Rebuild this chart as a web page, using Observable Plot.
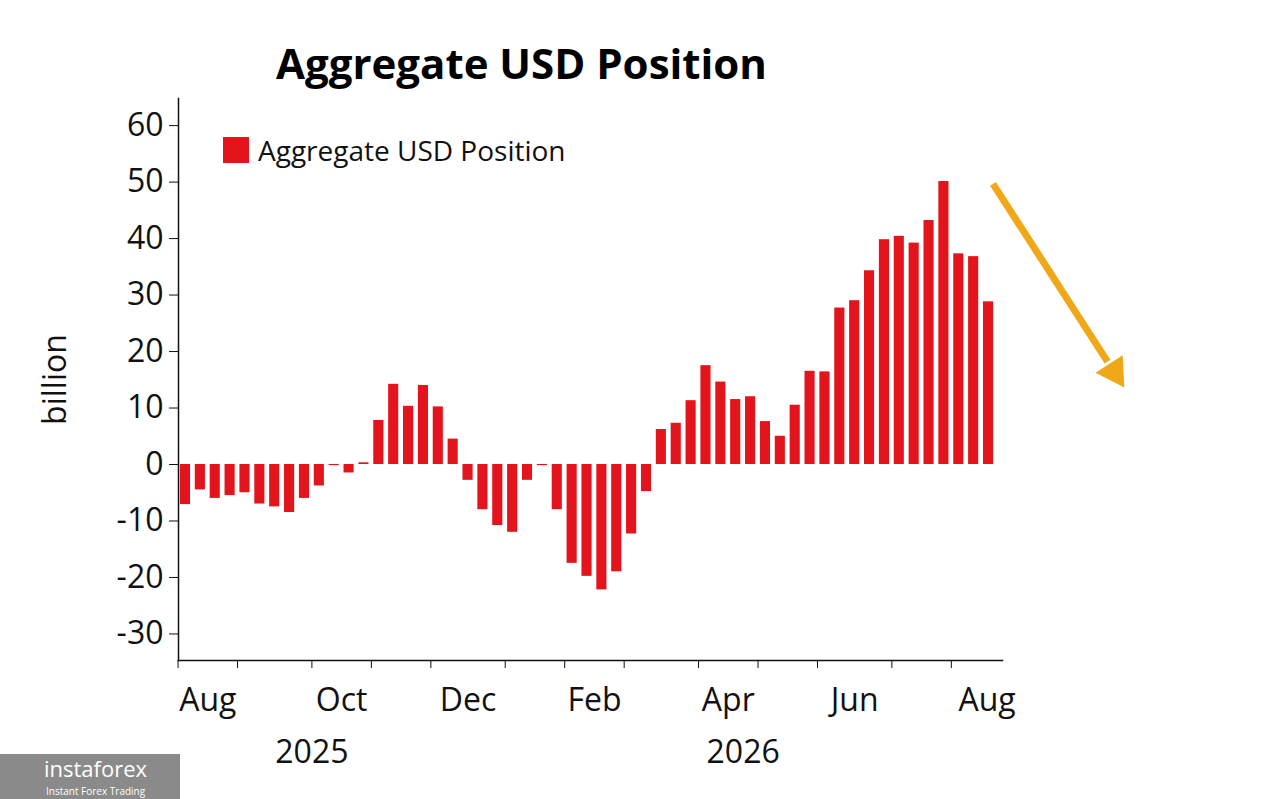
<!DOCTYPE html>
<html><head><meta charset="utf-8">
<script src="https://cdn.jsdelivr.net/npm/d3@7"></script>
<script src="https://cdn.jsdelivr.net/npm/@observablehq/plot@0.6"></script>
<style>
body{margin:0;background:#fff;font-family:"Open Sans",sans-serif;}
#wrap{position:relative;width:1263px;height:799px;}
#title{position:absolute;left:276px;top:34px;font-size:42px;font-weight:bold;color:#000;}
#legend{position:absolute;left:223px;top:131px;font-size:28px;display:flex;align-items:center;gap:9px;color:#111}
#legend span{display:inline-block;width:26px;height:26px;background:#e3141b}
#logo{position:absolute;left:0;top:754px;width:180px;height:45px;background:#8a8a8a;color:#fff}
#logo .a{position:absolute;left:44px;top:1px;font-size:22px;line-height:26px}
#logo .b{position:absolute;left:46px;top:32px;font-size:10px;line-height:11px}
</style></head><body>
<div id="wrap">
<div id="chart"></div>
<div id="title">Aggregate USD Position</div>
<div id="legend"><span></span>Aggregate USD Position</div>
<div id="logo"><div class="a">instaforex</div><div class="b">Instant Forex Trading</div></div>
</div>
<script>
const values = [-7.1,-4.5,-6,-5.5,-5,-7,-7.5,-8.5,-6,-3.8,-0.2,-1.5,0.3,7.8,14.2,10.3,14,10.2,4.5,-2.8,-8,-10.8,-12,-2.8,-0.2,-8,-17.5,-19.8,-22.2,-19,-12.3,-4.8,6.2,7.3,11.3,17.5,14.6,11.5,12,7.6,5,10.5,16.5,16.4,27.7,29,34.3,39.8,40.4,39.2,43.2,50.1,37.3,36.8,28.8];
const monthTicks = [-0.5,3.5,8.5,12.5,16.5,21.5,25.5,29.5,34.5,38.5,42.5,47.5,51.5];
const monthLabels = ["Aug","Oct","Dec","Feb","Apr","Jun","Aug"];
const monthLabelPos = [1.5,10.5,19,27.5,36.5,45,53.9];
const yearLabels = ["2025","2026"];
const yearLabelPos = [8.5,37.5];
const yTicks = [-30,-20,-10,0,10,20,30,40,50,60];
const arrow = [{x1:54.3,y1:49.7,x2:62.0,y2:18.2}];
const arrowHead = [{x:62.45,y:16.4}];
const data = values.map((v,i)=>({i,v}));
const chart = Plot.plot({
  width:1263,height:799,
  marginLeft:178,marginTop:98,marginRight:261,marginBottom:139,
  style:{fontFamily:"Open Sans, sans-serif",fontSize:"32px",color:"#111",overflow:"visible"},
  x:{domain:[-0.47,54.94]},
  y:{domain:[-34.7,64.8]},
  marks:[
    Plot.rectY(data,{x1:d=>d.i-0.34,x2:d=>d.i+0.34,y:"v",fill:"#e3141b"}),
    Plot.frame({anchor:"left",stroke:"#111",strokeWidth:1.5}),
    Plot.frame({anchor:"bottom",stroke:"#111",strokeWidth:1.5}),
    Plot.axisY(yTicks,{tickSize:9,tickPadding:6,fontSize:32,tickFormat:d=>String(d),label:"billion",labelAnchor:"center",labelOffset:135,labelArrow:"none"}),
    Plot.axisX(monthTicks,{tickSize:8,tickFormat:()=>"",label:null}),
    Plot.text(monthLabels,{x:(d,i)=>monthLabelPos[i],frameAnchor:"bottom",dy:50,fontSize:32}),
    Plot.text(yearLabels,{x:(d,i)=>yearLabelPos[i],frameAnchor:"bottom",dy:102,fontSize:32}),
    Plot.link(arrow,{x1:"x1",y1:"y1",x2:"x2",y2:"y2",stroke:"#f0a818",strokeWidth:7,clip:false}),
    Plot.dot(arrowHead,{x:"x",y:"y",symbol:"triangle",r:12,fill:"#f0a818",rotate:147,clip:false})
  ]
});
document.getElementById("chart").append(chart);
</script>
</body></html>
